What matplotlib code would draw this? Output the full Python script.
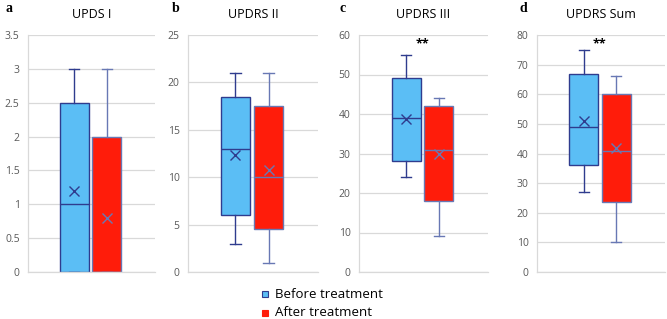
import matplotlib.pyplot as plt
from matplotlib.patches import Rectangle

# values
titles = ['UPDS I', 'UPDRS II', 'UPDRS III', 'UPDRS Sum']
letters = ['a', 'b', 'c', 'd']
ymax = [3.5, 25, 60, 80]
ystep = [0.5, 5, 10, 10]
signif = ['', '', '**', '**']

before_min = [0, 3, 24, 27]
before_q1 = [0, 6, 28, 36]
before_med = [1, 13, 39, 49]
before_q3 = [2.5, 18.5, 49, 67]
before_max = [3, 21, 55, 75]
before_mean = [1.2, 12.3, 38.7, 51]

after_min = [0, 1, 9, 10]
after_q1 = [0, 4.5, 18, 23.5]
after_med = [0, 10, 31, 41]
after_q3 = [2, 17.5, 42, 60]
after_max = [3, 21, 44, 66]
after_mean = [0.8, 10.8, 30, 42]

blue = '#5BBEF5'
red = '#FF1C0A'
navy = '#2F3C8E'
slate = '#6878B4'
grid = '#D9D9D9'
tick_col = '#595959'

plt.rcParams['font.family'] = ['Open Sans', 'DejaVu Sans']

fig = plt.figure(figsize=(6.67, 3.19), dpi=100)
lefts = [28, 188, 359, 537]
rights = [155, 318, 488, 665]
label_x = [5, 172, 340, 520]

for i in range(4):
    ax = fig.add_axes([lefts[i] / 667, 1 - 272 / 319,
                       (rights[i] - lefts[i]) / 667, (272 - 35) / 319])
    stats = [
        dict(whislo=before_min[i], q1=before_q1[i], med=before_med[i], q3=before_q3[i],
             whishi=before_max[i], mean=before_mean[i], fliers=[]),
        dict(whislo=after_min[i], q1=after_q1[i], med=after_med[i], q3=after_q3[i],
             whishi=after_max[i], mean=after_mean[i], fliers=[]),
    ]
    for j, (st, face, edge, line) in enumerate([(stats[0], blue, navy, navy),
                                                 (stats[1], red, slate, slate)]):
        ax.bxp([st], positions=[[0.365, 0.62][j]], widths=0.225, patch_artist=True,
               showmeans=True, shownotches=False,
               boxprops=dict(facecolor=face, edgecolor=edge, linewidth=1.0),
               medianprops=dict(color=line, linewidth=1.0),
               whiskerprops=dict(color=line, linewidth=1.0),
               capprops=dict(color=line, linewidth=1.0),
               capwidths=0.08,
               meanprops=dict(marker='x', markeredgecolor=line, markersize=7.5,
                              markeredgewidth=1.0))
    ax.set_xlim(0, 1)
    ax.set_ylim(0, ymax[i])
    ticks = [k * ystep[i] for k in range(int(round(ymax[i] / ystep[i])) + 1)]
    ax.set_yticks(ticks)
    ax.set_yticklabels([('%g' % t) for t in ticks])
    ax.set_xticks([])
    ax.yaxis.grid(True, color=grid, linewidth=0.9)
    ax.set_axisbelow(True)
    for s in ['top', 'right']:
        ax.spines[s].set_visible(False)
    for s in ['left', 'bottom']:
        ax.spines[s].set_color(grid)
        ax.spines[s].set_linewidth(0.9)
    ax.tick_params(axis='y', length=0, pad=6, labelsize=7.5, labelcolor=tick_col)
    ax.set_title(titles[i], fontsize=9, pad=12)
    if signif[i]:
        ax.text(0.49, ymax[i] * 0.962, signif[i], ha='center', va='center',
                fontsize=9, fontweight='bold')
    fig.text(label_x[i] / 667, 1 - 9 / 319, letters[i], family='Liberation Serif',
             fontsize=10, fontweight='bold', va='center')

# legend
for y, face, edge, lab in [(294, blue, navy, 'Before treatment'),
                           (313, red, red, 'After treatment')]:
    fig.patches.append(Rectangle((262 / 667, 1 - (y + 3) / 319), 6 / 667, 6 / 319,
                                 transform=fig.transFigure, facecolor=face,
                                 edgecolor=edge, linewidth=0.8))
    fig.text(275 / 667, 1 - y / 319, lab, fontsize=9.5, va='center')

fig.savefig('out.png', dpi=100)
